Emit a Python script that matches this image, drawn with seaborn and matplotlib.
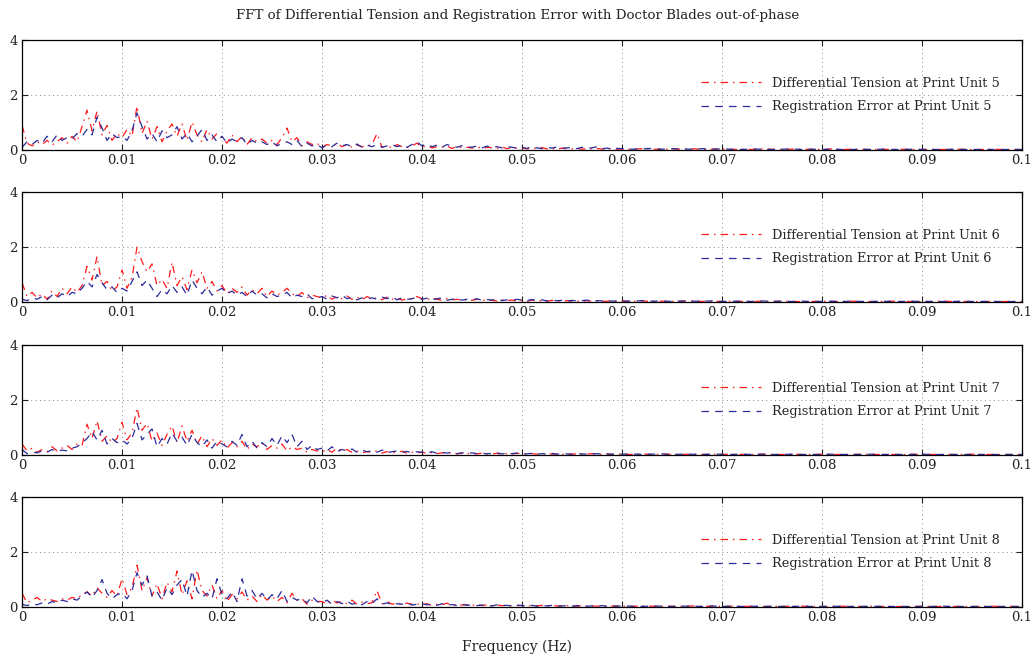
import numpy as np
import pandas as pd
import seaborn as sns
import matplotlib
matplotlib.use("Agg")
import matplotlib.pyplot as plt

# frequency bins: fine up to 0.06 Hz, coarser tail to 0.1 Hz
freq = np.round(np.concatenate([np.arange(0, 0.06, 0.0005), np.arange(0.06, 0.1001, 0.001)]), 4)

tension_5 = [0.9, 0.25, 0.15, 0.3, 0.2, 0.35, 0.18, 0.3, 0.45, 0.25,
             0.5, 0.3, 0.85, 1.45, 0.7, 1.42, 0.55, 0.9, 0.35, 0.6,
             0.45, 0.75, 0.5, 1.6, 0.6, 1.05, 0.4, 0.85, 0.3, 0.7,
             0.95, 0.5, 0.95, 0.35, 1.02, 0.55, 0.3, 0.75, 0.4, 0.6,
             0.45, 0.25, 0.55, 0.3, 0.5, 0.2, 0.45, 0.3, 0.4, 0.25,
             0.35, 0.2, 0.45, 0.8, 0.3, 0.45, 0.15, 0.3, 0.2, 0.25,
             0.1, 0.2, 0.15, 0.25, 0.12, 0.2, 0.1, 0.18, 0.12, 0.15,
             0.2, 0.6, 0.1, 0.15, 0.08, 0.2, 0.12, 0.1, 0.15, 0.25,
             0.1, 0.15, 0.08, 0.12, 0.1, 0.14, 0.06, 0.12, 0.09, 0.1,
             0.07, 0.12, 0.05, 0.1, 0.08, 0.06, 0.11, 0.05, 0.09, 0.06,
             0.08, 0.04, 0.07, 0.05, 0.09, 0.04, 0.06, 0.03, 0.07, 0.05,
             0.04, 0.06, 0.03, 0.05, 0.04, 0.06, 0.03, 0.05, 0.04, 0.03,
             0.04, 0.02, 0.05, 0.03, 0.02, 0.04, 0.03, 0.05, 0.02, 0.03,
             0.04, 0.02, 0.03, 0.02, 0.04, 0.03, 0.02, 0.03, 0.02, 0.03,
             0.02, 0.04, 0.02, 0.03, 0.02, 0.02, 0.03, 0.02, 0.03, 0.02,
             0.02, 0.03, 0.02, 0.02, 0.03, 0.02, 0.02, 0.03, 0.02, 0.02, 0.02]
regerr_5 = [0.1, 0.3, 0.2, 0.35, 0.25, 0.5, 0.3, 0.55, 0.35, 0.45,
            0.4, 0.6, 0.5, 0.75, 0.55, 1.2, 0.8, 0.35, 0.6, 0.45,
            0.5, 0.35, 0.7, 1.35, 0.85, 0.4, 0.6, 0.3, 0.7, 0.45,
            0.55, 0.85, 0.4, 0.6, 0.3, 0.5, 0.75, 0.35, 0.55, 0.3,
            0.5, 0.25, 0.4, 0.3, 0.45, 0.2, 0.35, 0.25, 0.3, 0.2,
            0.3, 0.15, 0.25, 0.3, 0.2, 0.35, 0.12, 0.25, 0.15, 0.2,
            0.08, 0.18, 0.12, 0.25, 0.15, 0.2, 0.12, 0.22, 0.1, 0.18,
            0.12, 0.2, 0.1, 0.15, 0.2, 0.12, 0.18, 0.1, 0.2, 0.3,
            0.15, 0.22, 0.12, 0.18, 0.1, 0.2, 0.14, 0.1, 0.16, 0.12,
            0.1, 0.15, 0.08, 0.14, 0.1, 0.12, 0.08, 0.13, 0.1, 0.07,
            0.1, 0.06, 0.12, 0.08, 0.05, 0.1, 0.07, 0.11, 0.06, 0.08,
            0.09, 0.05, 0.1, 0.06, 0.08, 0.12, 0.05, 0.07, 0.04, 0.06,
            0.05, 0.03, 0.04, 0.06, 0.03, 0.05, 0.04, 0.03, 0.05, 0.03,
            0.04, 0.03, 0.02, 0.04, 0.03, 0.02, 0.03, 0.04, 0.02, 0.03,
            0.02, 0.03, 0.02, 0.02, 0.03, 0.02, 0.03, 0.02, 0.02, 0.03,
            0.02, 0.02, 0.02, 0.03, 0.02, 0.02, 0.02, 0.02, 0.02, 0.02, 0.02]

tension_6 = [0.7, 0.2, 0.35, 0.15, 0.3, 0.1, 0.4, 0.2, 0.5, 0.3,
             0.55, 0.35, 0.6, 1.3, 0.8, 1.66, 0.6, 0.75, 0.4, 0.55,
             1.17, 0.5, 0.9, 2.0, 1.47, 1.1, 1.39, 0.6, 0.82, 0.5,
             1.45, 0.6, 0.92, 0.45, 1.17, 0.7, 1.1, 0.5, 0.75, 0.4,
             0.6, 0.3, 0.5, 0.35, 0.55, 0.25, 0.45, 0.3, 0.5, 0.2,
             0.4, 0.25, 0.35, 0.5, 0.3, 0.2, 0.35, 0.15, 0.25, 0.2,
             0.15, 0.25, 0.1, 0.2, 0.12, 0.22, 0.1, 0.18, 0.08, 0.2,
             0.12, 0.15, 0.08, 0.18, 0.1, 0.14, 0.07, 0.12, 0.1, 0.2,
             0.12, 0.08, 0.15, 0.1, 0.06, 0.12, 0.08, 0.1, 0.05, 0.09,
             0.06, 0.1, 0.05, 0.08, 0.06, 0.04, 0.08, 0.05, 0.07, 0.04,
             0.06, 0.03, 0.07, 0.04, 0.05, 0.03, 0.06, 0.04, 0.03, 0.05,
             0.03, 0.04, 0.02, 0.05, 0.03, 0.04, 0.02, 0.03, 0.04, 0.02,
             0.03, 0.02, 0.04, 0.02, 0.03, 0.02, 0.03, 0.04, 0.02, 0.03,
             0.02, 0.03, 0.02, 0.02, 0.03, 0.02, 0.03, 0.02, 0.02, 0.02,
             0.03, 0.02, 0.02, 0.03, 0.02, 0.02, 0.02, 0.03, 0.02, 0.02,
             0.02, 0.02, 0.03, 0.02, 0.02, 0.02, 0.02, 0.02, 0.02, 0.02, 0.02]
regerr_6 = [0.1, 0.05, 0.15, 0.1, 0.2, 0.08, 0.25, 0.15, 0.3, 0.2,
            0.35, 0.3, 0.5, 0.75, 0.55, 1.0, 0.7, 0.45, 0.55, 0.35,
            0.5, 0.4, 0.75, 1.1, 0.6, 0.8, 0.5, 0.2, 0.45, 0.3,
            0.6, 0.35, 0.55, 0.25, 0.8, 0.5, 0.3, 0.55, 0.25, 0.4,
            0.5, 0.3, 0.4, 0.25, 0.35, 0.2, 0.4, 0.25, 0.3, 0.15,
            0.3, 0.2, 0.25, 0.35, 0.15, 0.25, 0.2, 0.3, 0.12, 0.15,
            0.2, 0.1, 0.22, 0.15, 0.25, 0.12, 0.18, 0.08, 0.15, 0.1,
            0.15, 0.1, 0.18, 0.12, 0.2, 0.08, 0.15, 0.1, 0.12, 0.18,
            0.1, 0.14, 0.08, 0.12, 0.15, 0.06, 0.1, 0.12, 0.07, 0.1,
            0.08, 0.12, 0.06, 0.09, 0.07, 0.11, 0.05, 0.08, 0.06, 0.1,
            0.07, 0.05, 0.09, 0.06, 0.08, 0.04, 0.07, 0.05, 0.06, 0.04,
            0.06, 0.04, 0.05, 0.07, 0.03, 0.05, 0.04, 0.06, 0.03, 0.04,
            0.04, 0.03, 0.05, 0.03, 0.04, 0.02, 0.04, 0.03, 0.03, 0.04,
            0.02, 0.03, 0.03, 0.02, 0.04, 0.02, 0.03, 0.02, 0.03, 0.02,
            0.02, 0.03, 0.02, 0.03, 0.02, 0.02, 0.03, 0.02, 0.02, 0.03,
            0.02, 0.02, 0.02, 0.02, 0.03, 0.02, 0.02, 0.02, 0.02, 0.02, 0.02]

tension_7 = [0.4, 0.15, 0.25, 0.1, 0.2, 0.12, 0.3, 0.15, 0.25, 0.35,
             0.2, 0.4, 0.35, 1.12, 0.6, 1.25, 0.5, 0.7, 0.45, 0.6,
             1.19, 0.55, 0.8, 1.72, 0.9, 1.15, 0.5, 0.8, 0.35, 0.75,
             1.06, 0.45, 1.06, 0.5, 0.9, 0.4, 0.7, 0.3, 0.6, 0.35,
             0.55, 0.25, 0.45, 0.3, 0.5, 0.2, 0.4, 0.3, 0.45, 0.2,
             0.35, 0.25, 0.4, 0.15, 0.3, 0.2, 0.25, 0.1, 0.2, 0.15,
             0.12, 0.2, 0.1, 0.25, 0.15, 0.2, 0.1, 0.15, 0.08, 0.12,
             0.1, 0.15, 0.07, 0.12, 0.1, 0.08, 0.14, 0.06, 0.1, 0.08,
             0.1, 0.06, 0.09, 0.05, 0.08, 0.06, 0.1, 0.04, 0.07, 0.05,
             0.06, 0.04, 0.07, 0.05, 0.04, 0.06, 0.03, 0.05, 0.04, 0.06,
             0.04, 0.03, 0.05, 0.03, 0.04, 0.06, 0.03, 0.04, 0.02, 0.05,
             0.03, 0.04, 0.02, 0.03, 0.05, 0.02, 0.03, 0.04, 0.02, 0.03,
             0.03, 0.02, 0.04, 0.02, 0.03, 0.02, 0.02, 0.03, 0.02, 0.03,
             0.02, 0.03, 0.02, 0.02, 0.03, 0.02, 0.02, 0.03, 0.02, 0.02,
             0.03, 0.02, 0.02, 0.02, 0.03, 0.02, 0.02, 0.02, 0.02, 0.03,
             0.02, 0.02, 0.02, 0.02, 0.02, 0.03, 0.02, 0.02, 0.02, 0.02, 0.02]
regerr_7 = [0.2, 0.05, 0.1, 0.08, 0.15, 0.1, 0.2, 0.12, 0.18, 0.15,
            0.25, 0.3, 0.45, 0.6, 0.85, 0.55, 0.9, 0.4, 0.6, 0.45,
            0.55, 0.4, 0.6, 1.15, 0.55, 0.75, 0.95, 0.3, 0.6, 0.4,
            0.8, 0.5, 0.65, 0.35, 0.75, 0.45, 0.3, 0.55, 0.25, 0.5,
            0.4, 0.3, 0.5, 0.35, 0.75, 0.3, 0.5, 0.25, 0.45, 0.3,
            0.6, 0.35, 0.7, 0.45, 0.75, 0.3, 0.5, 0.2, 0.35, 0.2,
            0.25, 0.15, 0.3, 0.12, 0.2, 0.15, 0.22, 0.1, 0.18, 0.12,
            0.15, 0.1, 0.18, 0.08, 0.12, 0.15, 0.1, 0.13, 0.08, 0.12,
            0.1, 0.08, 0.12, 0.06, 0.1, 0.07, 0.09, 0.05, 0.08, 0.06,
            0.08, 0.05, 0.07, 0.04, 0.06, 0.08, 0.04, 0.06, 0.05, 0.07,
            0.05, 0.04, 0.06, 0.03, 0.05, 0.04, 0.06, 0.03, 0.05, 0.04,
            0.03, 0.05, 0.04, 0.03, 0.04, 0.05, 0.03, 0.04, 0.03, 0.04,
            0.03, 0.04, 0.02, 0.03, 0.04, 0.02, 0.03, 0.03, 0.02, 0.03,
            0.03, 0.02, 0.03, 0.02, 0.03, 0.02, 0.02, 0.03, 0.02, 0.02,
            0.02, 0.03, 0.02, 0.02, 0.02, 0.03, 0.02, 0.02, 0.02, 0.02,
            0.03, 0.02, 0.02, 0.02, 0.02, 0.02, 0.02, 0.02, 0.02, 0.02, 0.02]

tension_8 = [0.5, 0.15, 0.25, 0.35, 0.2, 0.3, 0.25, 0.2, 0.3, 0.25,
             0.35, 0.3, 0.45, 0.55, 0.4, 0.7, 0.5, 0.35, 0.6, 0.4,
             1.03, 0.45, 0.7, 1.52, 0.6, 1.07, 0.4, 0.85, 0.3, 0.9,
             0.55, 1.31, 0.45, 0.95, 0.3, 1.35, 0.6, 0.4, 0.8, 0.3,
             0.6, 0.2, 0.45, 0.3, 0.55, 0.25, 0.4, 0.2, 0.45, 0.25,
             0.4, 0.2, 0.35, 0.15, 0.5, 0.25, 0.3, 0.1, 0.25, 0.2,
             0.2, 0.1, 0.25, 0.15, 0.2, 0.12, 0.25, 0.1, 0.18, 0.12,
             0.15, 0.6, 0.12, 0.2, 0.1, 0.15, 0.08, 0.14, 0.1, 0.12,
             0.08, 0.12, 0.06, 0.1, 0.08, 0.14, 0.05, 0.1, 0.07, 0.09,
             0.06, 0.1, 0.05, 0.08, 0.04, 0.07, 0.05, 0.06, 0.04, 0.05,
             0.06, 0.03, 0.05, 0.04, 0.06, 0.03, 0.05, 0.04, 0.03, 0.05,
             0.04, 0.03, 0.05, 0.02, 0.04, 0.03, 0.04, 0.02, 0.03, 0.04,
             0.03, 0.02, 0.04, 0.03, 0.02, 0.03, 0.02, 0.04, 0.02, 0.03,
             0.02, 0.03, 0.02, 0.03, 0.02, 0.02, 0.03, 0.02, 0.03, 0.02,
             0.02, 0.02, 0.03, 0.02, 0.02, 0.03, 0.02, 0.02, 0.02, 0.02,
             0.03, 0.02, 0.02, 0.02, 0.02, 0.02, 0.02, 0.03, 0.02, 0.02, 0.02]
regerr_8 = [0.1, 0.05, 0.12, 0.08, 0.15, 0.1, 0.2, 0.15, 0.25, 0.2,
            0.3, 0.25, 0.4, 0.55, 0.35, 0.6, 1.0, 0.5, 0.3, 0.45,
            0.5, 0.3, 0.6, 1.25, 0.8, 1.13, 0.4, 0.55, 0.25, 0.7,
            0.45, 0.8, 1.0, 0.4, 1.33, 0.6, 0.35, 0.5, 0.3, 1.03,
            0.45, 0.3, 0.55, 0.2, 1.03, 0.4, 0.6, 0.3, 0.5, 0.25,
            0.45, 0.3, 0.6, 0.2, 0.35, 0.25, 0.3, 0.15, 0.4, 0.2,
            0.15, 0.25, 0.1, 0.2, 0.12, 0.22, 0.1, 0.15, 0.08, 0.2,
            0.12, 0.3, 0.1, 0.15, 0.08, 0.12, 0.1, 0.14, 0.07, 0.1,
            0.12, 0.08, 0.1, 0.06, 0.12, 0.07, 0.09, 0.05, 0.1, 0.06,
            0.08, 0.05, 0.07, 0.06, 0.04, 0.08, 0.05, 0.06, 0.04, 0.07,
            0.05, 0.04, 0.06, 0.03, 0.05, 0.04, 0.06, 0.03, 0.04, 0.05,
            0.03, 0.05, 0.04, 0.03, 0.04, 0.03, 0.05, 0.03, 0.04, 0.03,
            0.04, 0.03, 0.02, 0.04, 0.03, 0.02, 0.03, 0.03, 0.02, 0.04,
            0.02, 0.03, 0.02, 0.03, 0.02, 0.03, 0.02, 0.02, 0.03, 0.02,
            0.02, 0.03, 0.02, 0.02, 0.02, 0.03, 0.02, 0.02, 0.02, 0.02,
            0.02, 0.02, 0.03, 0.02, 0.02, 0.02, 0.02, 0.02, 0.02, 0.02, 0.02]

units = [5, 6, 7, 8]
tension = [tension_5, tension_6, tension_7, tension_8]
regerr = [regerr_5, regerr_6, regerr_7, regerr_8]
xticks = [0, 0.01, 0.02, 0.03, 0.04, 0.05, 0.06, 0.07, 0.08, 0.09, 0.1]
xticklabels = ["0", "0.01", "0.02", "0.03", "0.04", "0.05", "0.06", "0.07", "0.08", "0.09", "0.1"]
yticks = [0, 2, 4]

sns.set_style("ticks")
plt.rcParams['font.family'] = ['DejaVu Serif']

fig = plt.figure(figsize=(10.35, 6.58), dpi=100)
bottoms = [0.772, 0.541, 0.3085, 0.0775]

for k, unit in enumerate(units):
    ax = fig.add_axes([0.0213, bottoms[k], 0.966, 0.167])
    sns.lineplot(x=freq, y=tension[k], ax=ax, color='#ff1a1a', linewidth=0.9,
                 linestyle=(0, (6, 4, 1.2, 4)),
                 label=f"Differential Tension at Print Unit {unit}")
    sns.lineplot(x=freq, y=regerr[k], ax=ax, color='#2b2b9c', linewidth=0.9,
                 linestyle=(0, (6, 5)),
                 label=f"Registration Error at Print Unit {unit}")
    ax.set_xlim(0, 0.1)
    ax.set_ylim(0, 4)
    ax.set_xticks(xticks)
    ax.set_xticklabels(xticklabels)
    ax.set_yticks(yticks)
    ax.tick_params(direction='in', top=True, right=True, length=4, labelsize=9.5,
                   colors='#222222', pad=3)
    ax.grid(True, linestyle=(0, (1, 3.5)), color='#888888', linewidth=0.7)
    for sp in ax.spines.values():
        sp.set_color('black')
        sp.set_linewidth(0.9)
    ax.set_xlabel("")
    ax.set_ylabel("")
    ax.legend(loc='center right', bbox_to_anchor=(0.99, 0.5), frameon=False,
              fontsize=9.3, handlelength=4.6, handletextpad=0.9, labelspacing=0.8)

fig.text(0.5, 0.977, "FFT of Differential Tension and Registration Error with Doctor Blades out-of-phase",
         ha='center', va='center', fontsize=9.6, color='#222222')
fig.text(0.5, 0.017, "Frequency (Hz)", ha='center', va='center', fontsize=10, color='#222222')

fig.savefig("out.png", dpi=100)
